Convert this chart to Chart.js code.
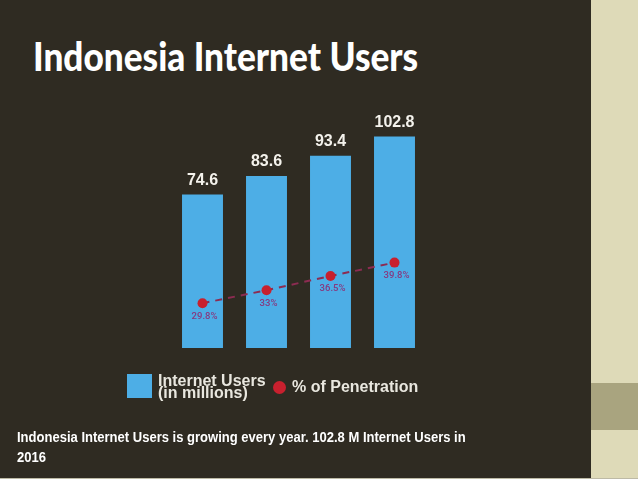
<!DOCTYPE html>
<html><head><meta charset="utf-8">
<script src="https://cdn.jsdelivr.net/npm/chart.js@4"></script>
<style>
html,body{margin:0;padding:0;}
body{width:638px;height:479px;position:relative;overflow:hidden;background:#2f2b22;font-family:"Liberation Sans",Arial,sans-serif;}
#side{position:absolute;left:591px;top:0;width:47px;height:479px;background:#dedab8;}
#band{position:absolute;left:591px;top:383px;width:47px;height:47px;background:#a9a47f;}
#bottomline{position:absolute;left:0;top:478px;width:638px;height:1px;background:#bdbaa6;}
#title{position:absolute;left:33px;top:36px;color:#fff;font:900 40px/40px Lato,sans-serif;white-space:nowrap;transform:scaleX(0.88);transform-origin:0 0;}
#chart{position:absolute;left:0;top:0;}
.lg{position:absolute;color:#e9e7df;font:700 16px/12.5px "Liberation Sans",Arial,sans-serif;white-space:nowrap;}
#sq{position:absolute;left:127px;top:374px;width:25px;height:24px;background:#4daee6;}
#dot{position:absolute;left:272.5px;top:380.5px;width:13px;height:13px;border-radius:50%;background:#c8202e;}
#foot{position:absolute;left:17px;top:427px;color:#fff;font:700 15px/20px "Liberation Sans",Arial,sans-serif;width:640px;transform:scaleX(0.868);transform-origin:0 0;}
</style></head>
<body>
<div id="side"></div><div id="band"></div><div id="bottomline"></div>
<div id="title">Indonesia Internet Users</div>
<canvas id="chart" width="638" height="479"></canvas>
<div id="sq"></div>
<div class="lg" style="left:158px;top:374.5px;">Internet Users<br>(in millions)</div>
<div id="dot"></div>
<div class="lg" style="left:292px;top:381px;">% of Penetration</div>
<div id="foot">Indonesia Internet Users is growing every year. 102.8 M Internet Users in<br>2016</div>
<script>
const years = ['2013', '2014', '2015', '2016'];
const internetUsers = [74.6, 83.6, 93.4, 102.8];
const penetration = [29.8, 33, 36.5, 39.8];

const labelPlugin = {
  id: 'valueLabels',
  afterDatasetsDraw(chart) {
    const ctx = chart.ctx;
    ctx.save();
    ctx.textAlign = 'center';
    ctx.textBaseline = 'middle';
    const barMeta = chart.getDatasetMeta(0);
    ctx.fillStyle = '#f4f2ec';
    ctx.font = 'bold 16px "Liberation Sans", Arial, sans-serif';
    barMeta.data.forEach((el, i) => {
      ctx.fillText(String(internetUsers[i]), el.x, el.y - 14);
    });
    const lineMeta = chart.getDatasetMeta(1);
    ctx.fillStyle = '#863a80';
    ctx.font = '500 9.5px "Roboto", "Liberation Sans", sans-serif';
    lineMeta.data.forEach((el, i) => {
      ctx.fillText(penetration[i] + '%', el.x + 2, el.y + 13);
    });
    ctx.restore();
  }
};

new Chart(document.getElementById('chart'), {
  type: 'bar',
  data: {
    labels: years,
    datasets: [
      {
        label: 'Internet Users (in millions)',
        data: internetUsers,
        backgroundColor: '#4daee6',
        borderWidth: 0,
        barPercentage: 0.64,
        categoryPercentage: 1,
        yAxisID: 'y',
        order: 1
      },
      {
        type: 'line',
        label: '% of Penetration',
        data: penetration,
        yAxisID: 'y1',
        borderColor: '#8c2c52',
        borderWidth: 2,
        borderDash: [7, 6],
        pointRadius: 5,
        pointBackgroundColor: '#c8202e',
        pointBorderWidth: 0,
        fill: false,
        tension: 0,
        order: 0
      }
    ]
  },
  options: {
    responsive: false,
    animation: false,
    devicePixelRatio: 1,
    layout: { padding: { left: 170.5, right: 211.5, top: 101, bottom: 131 } },
    plugins: { legend: { display: false }, title: { display: false }, tooltip: { enabled: false } },
    scales: {
      x: { display: false, offset: true, grid: { display: false } },
      y: { display: false, min: 0, max: 120 },
      y1: { display: false, min: 18.76, max: 79.63, position: 'right' }
    }
  },
  plugins: [labelPlugin]
});
</script>
</body></html>
